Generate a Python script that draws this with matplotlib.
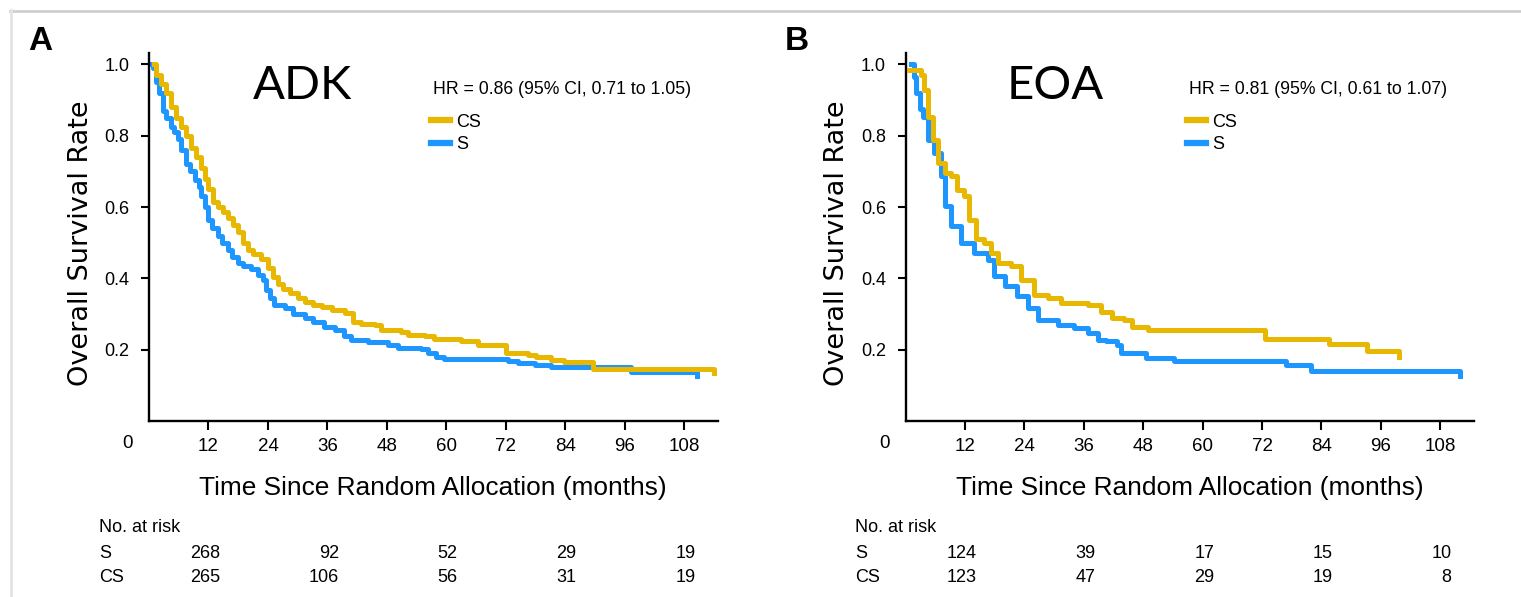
import matplotlib
matplotlib.use("Agg")
import matplotlib.pyplot as plt
from matplotlib.lines import Line2D
from matplotlib.transforms import blended_transform_factory

# panel A (ADK) - Kaplan-Meier steps
a_cs_t = [1.0, 1.5, 2.5, 3.5, 4.5, 5.5, 6.5, 7.5, 8.5, 9.5, 10.5, 11.2, 12.0, 13.0, 14.0, 15.0,
          16.0, 17.0, 18.0, 19.0, 20.0, 21.0, 22.5, 24.0, 25.0, 26.0, 27.0, 28.5, 30.0, 31.5,
          33.0, 35.0, 37.0, 39.5, 41.1, 42.8, 45.5, 46.8, 50.9, 52.2, 55.6, 57.6, 63.0, 66.3,
          72.1, 76.4, 78.1, 81.1, 83.8, 89.5, 114.0]
a_cs_s = [1.0, 0.97, 0.945, 0.92, 0.88, 0.85, 0.825, 0.80, 0.765, 0.74, 0.71, 0.68, 0.65, 0.615,
          0.60, 0.585, 0.57, 0.55, 0.53, 0.50, 0.48, 0.467, 0.455, 0.43, 0.405, 0.385, 0.37,
          0.36, 0.345, 0.335, 0.325, 0.32, 0.31, 0.303, 0.279, 0.273, 0.27, 0.256, 0.249, 0.242,
          0.237, 0.23, 0.223, 0.212, 0.19, 0.186, 0.18, 0.172, 0.165, 0.147, 0.135]
a_s_t = [0.4, 0.8, 1.5, 2.0, 2.8, 3.5, 4.5, 5.0, 5.8, 6.5, 7.5, 8.3, 9.2, 10.0, 10.5, 11.2, 11.9,
         12.8, 13.9, 14.8, 15.9, 16.8, 17.9, 19.0, 20.6, 22.0, 23.0, 23.7, 24.5, 25.3, 27.4,
         29.0, 31.4, 33.0, 35.4, 37.5, 39.4, 40.8, 44.2, 48.2, 50.2, 54.9, 56.2, 57.9, 59.6,
         72.4, 74.4, 77.8, 81.1, 97.3, 110.5]
a_s_s = [1.0, 0.99, 0.95, 0.92, 0.87, 0.85, 0.825, 0.81, 0.79, 0.76, 0.72, 0.70, 0.676, 0.655,
         0.63, 0.60, 0.565, 0.54, 0.518, 0.50, 0.48, 0.46, 0.443, 0.435, 0.425, 0.41, 0.395,
         0.368, 0.345, 0.326, 0.317, 0.30, 0.289, 0.278, 0.265, 0.255, 0.237, 0.226, 0.221,
         0.214, 0.205, 0.202, 0.19, 0.18, 0.175, 0.167, 0.163, 0.156, 0.152, 0.137, 0.125]

# panel B (EOA)
b_cs_t = [0.8, 3.2, 3.8, 4.5, 5.5, 6.5, 7.9, 9.2, 10.5, 11.9, 12.9, 14.2, 15.9, 17.3, 18.6, 21.3,
          23.3, 26.0, 28.7, 31.4, 36.8, 39.5, 41.8, 44.2, 45.8, 48.9, 72.5, 85.5, 93.2, 99.6]
b_cs_s = [0.985, 0.97, 0.928, 0.853, 0.788, 0.723, 0.695, 0.686, 0.648, 0.63, 0.565, 0.509, 0.5,
          0.472, 0.443, 0.434, 0.396, 0.354, 0.345, 0.331, 0.326, 0.307, 0.289, 0.282, 0.265,
          0.254, 0.231, 0.217, 0.195, 0.18]
b_s_t = [1.2, 1.8, 2.2, 2.9, 3.5, 4.5, 5.8, 7.2, 7.9, 9.2, 11.2, 13.9, 16.6, 17.9, 20.0, 22.6,
         24.7, 26.7, 30.7, 34.1, 36.8, 38.8, 40.5, 42.8, 43.5, 48.5, 54.2, 76.8, 81.8, 112.0]
b_s_s = [1.0, 0.965, 0.92, 0.875, 0.853, 0.788, 0.751, 0.686, 0.602, 0.546, 0.50, 0.472, 0.452,
         0.406, 0.378, 0.35, 0.317, 0.284, 0.27, 0.26, 0.247, 0.228, 0.223, 0.214, 0.192, 0.178,
         0.168, 0.158, 0.141, 0.125]

risk_times = [12, 36, 60, 84, 108]
a_risk_s = [268, 92, 52, 29, 19]
a_risk_cs = [265, 106, 56, 31, 19]
b_risk_s = [124, 39, 17, 15, 10]
b_risk_cs = [123, 47, 29, 19, 8]

x_ticks = [12, 24, 36, 48, 60, 72, 84, 96, 108]
y_ticks = [0.2, 0.4, 0.6, 0.8, 1.0]

YELLOW = '#E8B800'
BLUE = '#1E96FF'
TXT = 'Liberation Sans'

plt.rcParams['font.family'] = [TXT, 'DejaVu Sans']

fig = plt.figure(figsize=(15.21, 5.97), dpi=100)
W, H = 1521.0, 597.0


def fx(px):
    return px / W


def fy(py):
    return 1 - py / H


# light frame on top and left
fig.add_artist(Line2D([fx(10), 1], [fy(10.5), fy(10.5)], color='#cfcfcf', lw=2))
fig.add_artist(Line2D([fx(10.5), fx(10.5)], [fy(10), 0], color='#e3e3e3', lw=2))


def panel(left, right, letter, letter_x, name, name_x, hr, cs_t, cs_s, s_t, s_s, rs, rcs, table_x):
    ax = fig.add_axes([fx(left), fy(421), fx(right) - fx(left), fy(53) - fy(421)])
    l_cs, = ax.step(cs_t, cs_s, where='post', color=YELLOW, lw=3.6, label='CS')
    l_s, = ax.step(s_t, s_s, where='post', color=BLUE, lw=3.6, label='S')
    # yellow drawn over blue where they overlap
    l_cs.set_zorder(3)
    ax.set_xlim(0, 114.8)
    ax.set_ylim(0, 1.032)
    ax.set_xticks(x_ticks)
    ax.set_xticklabels([str(t) for t in x_ticks])
    ax.set_yticks(y_ticks)
    ax.set_yticklabels(['%.1f' % v for v in y_ticks])
    for s in ['top', 'right']:
        ax.spines[s].set_visible(False)
    for s in ['left', 'bottom']:
        ax.spines[s].set_linewidth(1.7)
    ax.tick_params(axis='y', direction='out', length=6, width=1.5, pad=8, labelsize=13)
    ax.tick_params(axis='x', direction='out', length=6.5, width=1.5, pad=6, labelsize=13.5)

    trans = blended_transform_factory(ax.transData, fig.transFigure)
    ax.text(-4.3, fy(444), '0', transform=trans, ha='center', va='center', fontsize=13.5)

    ax.text((name_x - left) / (right - left), (421 - 86) / 368.0, name, transform=ax.transAxes,
            ha='center', va='center', fontsize=34, family=['Lato', 'DejaVu Sans'])
    ax.text((433 - 149) / 569.0, (421 - 90) / 368.0, hr, transform=ax.transAxes,
            ha='left', va='center', fontsize=12.7)
    h_cs = Line2D([], [], color=YELLOW, lw=4.5)
    h_s = Line2D([], [], color=BLUE, lw=4.5)
    ax.legend(handles=[h_cs, h_s], labels=['CS', 'S'], loc='upper left',
              bbox_to_anchor=(0.4956, 0.835), frameon=False, fontsize=13, handlelength=1.05,
              handletextpad=0.35, labelspacing=0.32, borderpad=0, borderaxespad=0)

    fig.text(fx(letter_x), fy(41), letter, ha='center', va='center', fontsize=24,
             fontweight='bold')
    fig.text(fx(left - 68), fy(243), 'Overall Survival Rate', rotation=90, ha='center',
             va='center', fontsize=19.5, family=['DejaVu Sans'])
    fig.text(fx(left + 284), fy(488), 'Time Since Random Allocation (months)', ha='center',
             va='center', fontsize=18.9)

    fig.text(fx(table_x), fy(528), 'No. at risk', ha='left', va='center', fontsize=13)
    fig.text(fx(table_x), fy(553), 'S', ha='left', va='center', fontsize=13)
    fig.text(fx(table_x), fy(577), 'CS', ha='left', va='center', fontsize=13)
    for t, n1, n2 in zip(risk_times, rs, rcs):
        ax.text(t + 2.3, fy(553), str(n1), transform=trans, ha='right', va='center', fontsize=13)
        ax.text(t + 2.3, fy(577), str(n2), transform=trans, ha='right', va='center', fontsize=13)
    return ax


panel(149, 718, 'A', 40, 'ADK', 302, 'HR = 0.86 (95% CI, 0.71 to 1.05)',
      a_cs_t, a_cs_s, a_s_t, a_s_s, a_risk_s, a_risk_cs, 99)
panel(905.5, 1474, 'B', 797, 'EOA', 1055, 'HR = 0.81 (95% CI, 0.61 to 1.07)',
      b_cs_t, b_cs_s, b_s_t, b_s_s, b_risk_s, b_risk_cs, 855.5)

fig.savefig('out.png', dpi=100)
